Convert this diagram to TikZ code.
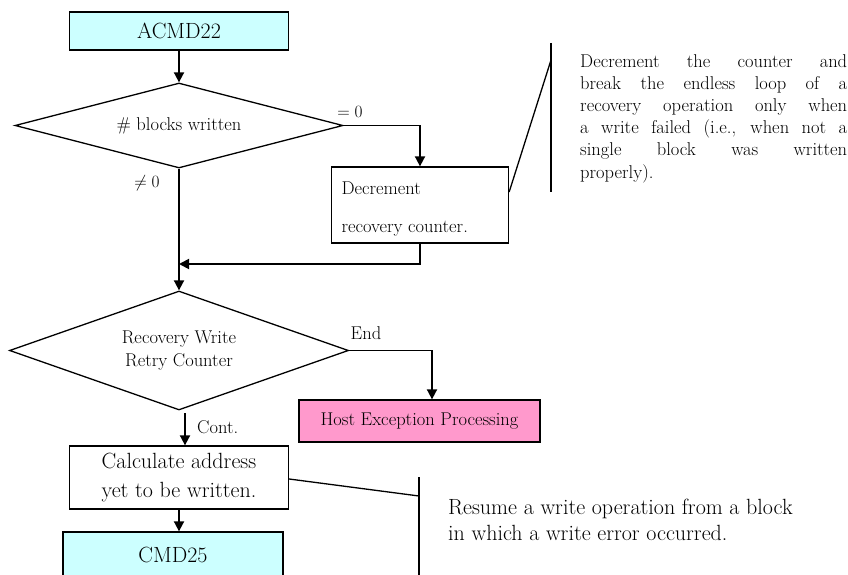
\documentclass[tikz,border=0pt]{standalone}
\usetikzlibrary{shapes.geometric,arrows.meta}
\definecolor{cmdfill}{HTML}{CCFFFF}
\definecolor{hostfill}{HTML}{FF99CC}
\newcommand\flowsmall{\fontsize{18.5}{22.2}\selectfont}
\newcommand\flowbig{\fontsize{22}{28}\selectfont}
\newcommand\notebig{\fontsize{22}{26}\selectfont}
\begin{document}
\begin{tikzpicture}[x=1pt,y=-1pt,
  box/.style={draw, line width=1.3pt, rectangle, inner sep=0pt},
  cmdbox/.style={box, fill=cmdfill, font=\flowbig},
  decision/.style={draw, line width=1.3pt, diamond, inner sep=0pt,
    font=\flowsmall, align=center},
  flow/.style={line width=1.8pt, -{Triangle[length=10pt,width=10pt]}},
  callout/.style={line width=1.3pt},
  lbl/.style={font=\flowsmall, inner sep=0pt}]
\useasboundingbox (0,0) rectangle (848,575);

% main column
\node[cmdbox, minimum width=219, minimum height=38] (acmd) at (179,31) {ACMD22};
\node[decision, minimum width=328, minimum height=85, shape aspect=3.86]
  (d1) at (179,125.5) {\# blocks written};
\node[box, minimum width=177, minimum height=76, font=\flowsmall,
  text height=61.7pt, text depth=6.7pt] (dec) at (420,205)
  {\begin{tabular}[b]{@{}p{157pt}@{}}Decrement\\[16pt]recovery counter.\end{tabular}};
\node[decision, minimum width=339, minimum height=119, shape aspect=2.85]
  (d2) at (179,350.5) {Recovery Write\\Retry Counter};
\node[box, fill=hostfill, minimum width=241, minimum height=42, font=\flowsmall]
  (host) at (419.5,421) {Host Exception Processing};
\node[box, minimum width=219, minimum height=63, font=\flowbig, align=center]
  (calc) at (179,477.5) {Calculate address\\[1pt]yet to be written.};
\node[cmdbox, minimum width=220, minimum height=46] (cmd) at (173,555) {CMD25};

% branch labels
\node[lbl] (eq0) at (350,112) {$=0$};
\node[lbl] (ne0) at (147,183) {$\neq 0$};
\node[lbl] (endl) at (366,333) {End};
\node[lbl, anchor=west] (cont) at (197,427) {Cont.};

% connectors
\coordinate (join) at (179,264);
\coordinate (contstart) at (185,413);
\draw[flow] (acmd.south) -- (acmd.south |- d1.north);
\draw[flow] (d1.east) -| (dec.north);
\draw[flow] (d1.south) -- (d2.north);
\draw[flow] (dec.south) |- (join);
\draw[flow] (d2.east) -| ([xshift=12.5pt]host.north);
\draw[flow] (contstart) -- (contstart |- calc.north);
\draw[flow] (calc.south) -- (calc.south |- cmd.north);

% note on the recovery counter
\coordinate (c1top) at (551,43);
\coordinate (c1bot) at (551,192);
\coordinate (c1knee) at (551,60);
\draw[callout] (c1top) -- (c1bot);
\draw[callout] ([yshift=13pt]dec.east) -- (c1knee);
\node[font=\flowsmall, anchor=west, inner sep=0pt, align=left] (note1) at (580,118.5)
  {\makebox[267pt][s]{Decrement the counter and}\\
   \makebox[267pt][s]{break the endless loop of a}\\
   \makebox[267pt][s]{recovery operation only when}\\
   \makebox[267pt][s]{a write failed (i.e., when not a}\\
   \makebox[267pt][s]{single block was written}\\
   properly).};

% note on resuming the write
\coordinate (c2top) at (419,477);
\coordinate (c2bot) at (419,577);
\coordinate (c2knee) at (419,496);
\draw[callout] (c2top) -- (c2bot);
\draw[callout] ([yshift=-1.5pt]calc.east) -- (c2knee);
\node[font=\notebig, anchor=west, inner sep=0pt, align=left] (note2) at (448,519.5)
  {Resume a write operation from a block\\in which a write error occurred.};
\end{tikzpicture}
\end{document}
